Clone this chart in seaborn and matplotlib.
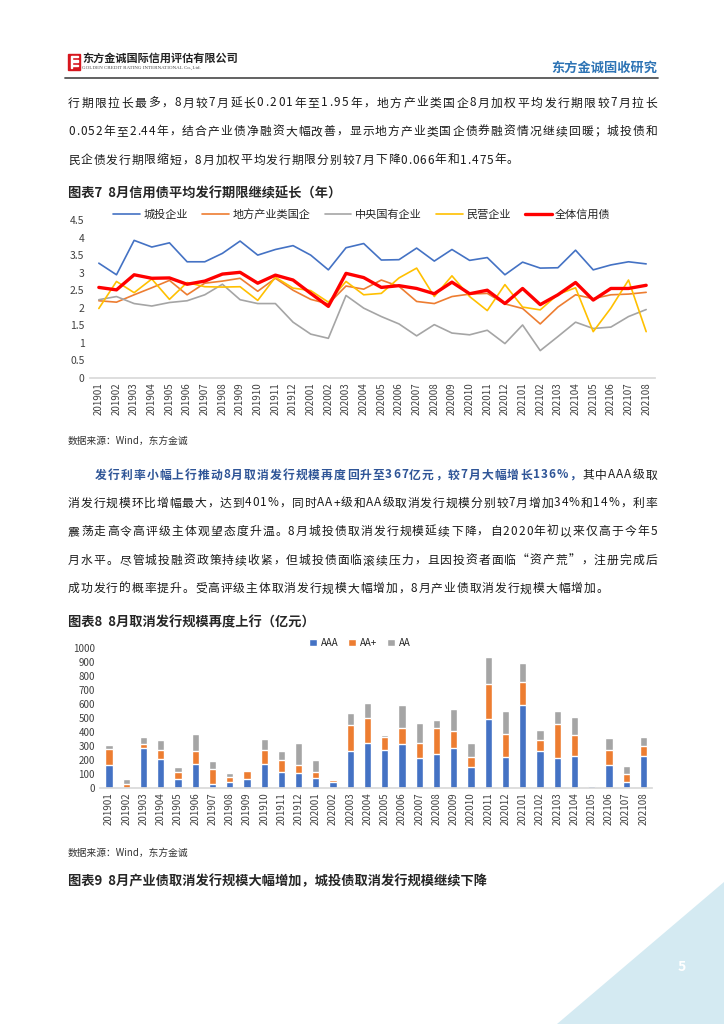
import matplotlib
matplotlib.use("Agg")
import pandas as pd
import seaborn as sns
import matplotlib.pyplot as plt
from matplotlib.patches import Polygon, Rectangle

W, H = 724, 1024

months = ['201901', '201902', '201903', '201904', '201905', '201906', '201907', '201908',
          '201909', '201910', '201911', '201912', '202001', '202002', '202003', '202004',
          '202005', '202006', '202007', '202008', '202009', '202010', '202011', '202012',
          '202101', '202102', '202103', '202104', '202105', '202106', '202107', '202108']

# chart 7: average issuance term (years)
chengtou = [3.27, 2.94, 3.92, 3.73, 3.85, 3.31, 3.31, 3.55, 3.90, 3.50, 3.66, 3.77, 3.50, 3.08, 3.71, 3.83,
            3.36, 3.37, 3.70, 3.33, 3.66, 3.35, 3.43, 2.94, 3.30, 3.13, 3.14, 3.64, 3.08, 3.22, 3.31, 3.25]
difang = [2.20, 2.16, 2.37, 2.57, 2.78, 2.37, 2.70, 2.76, 2.84, 2.47, 2.84, 2.50, 2.24, 2.11, 2.62, 2.53,
          2.79, 2.61, 2.18, 2.12, 2.32, 2.39, 2.41, 2.11, 1.98, 1.54, 2.02, 2.37, 2.26, 2.37, 2.39, 2.44]
zhongyang = [2.23, 2.32, 2.12, 2.05, 2.15, 2.20, 2.37, 2.67, 2.23, 2.12, 2.12, 1.59, 1.25, 1.13, 2.35, 1.99,
             1.75, 1.54, 1.20, 1.52, 1.28, 1.23, 1.36, 0.98, 1.51, 0.78, 1.18, 1.59, 1.41, 1.45, 1.75, 1.95]
minying = [1.98, 2.75, 2.43, 2.82, 2.24, 2.72, 2.60, 2.59, 2.60, 2.21, 2.87, 2.56, 2.49, 2.16, 2.75, 2.37,
           2.41, 2.85, 3.13, 2.32, 2.91, 2.32, 1.92, 2.66, 2.02, 1.94, 2.38, 2.57, 1.32, 1.99, 2.79, 1.32]
quanti = [2.58, 2.51, 2.94, 2.84, 2.85, 2.67, 2.76, 2.96, 3.01, 2.70, 2.93, 2.79, 2.41, 2.04, 2.98, 2.86,
          2.58, 2.63, 2.55, 2.40, 2.73, 2.40, 2.50, 2.12, 2.55, 2.09, 2.37, 2.72, 2.22, 2.55, 2.55, 2.64]
line_names = ['城投企业', '地方产业类国企', '中央国有企业', '民营企业', '全体信用债']

# chart 8: cancelled issuance by rating (100m yuan)
aaa = [162, 0, 283, 210, 67, 171, 31, 45, 67, 174, 117, 105, 69, 40, 267, 324,
       274, 317, 217, 245, 286, 152, 495, 219, 595, 264, 212, 226, 12, 167, 45, 228]
aa_plus = [114, 29, 34, 64, 47, 91, 102, 36, 52, 95, 83, 62, 48, 15, 185, 174,
           88, 112, 102, 184, 119, 67, 248, 167, 165, 81, 248, 155, 7, 107, 54, 73]
aa = [34, 35, 45, 66, 36, 121, 62, 26, 10, 81, 67, 152, 85, 12, 86, 112,
      19, 166, 145, 54, 157, 100, 193, 162, 133, 72, 88, 124, 5, 86, 56, 66]

para1 = ['行期限拉长最多，8月较7月延长0.201年至1.95年，地方产业类国企8月加权平均发行期限较7月拉长',
         '0.052年至2.44年，结合产业债净融资大幅改善，显示地方产业类国企债券融资情况继续回暖；城投债和',
         '民企债发行期限缩短，8月加权平均发行期限分别较7月下降0.066年和1.475年。']
para2_lead = '发行利率小幅上行推动8月取消发行规模再度回升至367亿元，较7月大幅增长136%，'
para2 = ['其中AAA级取',
         '消发行规模环比增幅最大，达到401%，同时AA+级和AA级取消发行规模分别较7月增加34%和14%，利率',
         '震荡走高令高评级主体观望态度升温。8月城投债取消发行规模延续下降，自2020年初以来仅高于今年5',
         '月水平。尽管城投融资政策持续收紧，但城投债面临滚续压力，且因投资者面临“资产荒”，注册完成后',
         '成功发行的概率提升。受高评级主体取消发行规模大幅增加，8月产业债取消发行规模大幅增加。']

sns.set_theme(style="white")
plt.rcParams['font.family'] = ['Noto Sans CJK SC', 'DejaVu Sans']

fig = plt.figure(figsize=(7.24, 10.24), dpi=100)
r = fig.canvas.get_renderer()


def fx(x):
    return x / W


def fy(y):
    return 1 - y / H


def put_line(y, x0, x1, segs, size=8.5):
    # place chars one by one, spread out to fill x0..x1 (justified)
    items = []
    for text, color, weight in segs:
        for ch in text:
            t = fig.text(0, 0, ch, fontsize=size, color=color, fontweight=weight, va="center", ha="left")
            items.append((t, t.get_window_extent(r).width))
    total = sum(w for _, w in items)
    gap = (x1 - x0 - total) / (len(items) - 1) if x1 else 0.95
    x = x0
    for t, w in items:
        t.set_position((fx(x), fy(y)))
        x += w + gap


# header
fig.add_artist(Rectangle((fx(68), fy(70)), 12 / W, 16 / H, color="#d7161e"))
for yy in (57, 61.5, 66):
    fig.add_artist(Rectangle((fx(72), fy(yy)), 6 / W, 1.4 / H, color="white"))
fig.add_artist(Rectangle((fx(70.5), fy(68)), 1.5 / W, 12 / H, color="white"))
fig.text(fx(82), fy(58), "东方金诚国际信用评估有限公司", fontsize=8, fontweight="bold", color="#222222", va="center")
fig.text(fx(82), fy(67.5), "GOLDEN CREDIT RATING INTERNATIONAL Co.,Ltd.", fontsize=3.6,
         family="Liberation Serif", color="#444444", va="center")
fig.text(fx(657), fy(68), "东方金诚固收研究", fontsize=9.5, fontweight="bold", color="#2e74b5", va="center", ha="right")
fig.add_artist(plt.Line2D([fx(65), fx(658)], [fy(77.5), fy(77.5)], color="#555555", lw=1.3))

# paragraph 1
for i, line in enumerate(para1):
    put_line(103 + 28.5 * i, 68, None if i == 2 else 657, [(line, "#1a1a1a", "normal")])

# chart 7
fig.text(fx(68), fy(194), "图表7  8月信用债平均发行期限继续延长（年）", fontsize=9.5, fontweight="bold", va="center")
ax1 = fig.add_axes([fx(90), fy(378), (655 - 90) / W, (378 - 220) / H])
xs = list(range(len(months)))
series = [chengtou, difang, zhongyang, minying, quanti]
colors = ['#4472c4', '#ed7d31', '#a5a5a5', '#ffc000', '#ff0000']
widths = [1.2, 1.2, 1.2, 1.2, 2.4]
for name, vals, c, lw in zip(line_names, series, colors, widths):
    sns.lineplot(x=xs, y=vals, color=c, linewidth=lw, label=name, ax=ax1)
ax1.set_xlim(-0.5, len(months) - 0.5)
ax1.set_ylim(0, 4.5)
ax1.set_yticks([0, 0.5, 1, 1.5, 2, 2.5, 3, 3.5, 4, 4.5])
ax1.set_yticklabels(['0', '0.5', '1', '1.5', '2', '2.5', '3', '3.5', '4', '4.5'])
ax1.set_xticks(xs)
ax1.set_xticklabels(months, rotation=90)
ax1.tick_params(axis="x", labelsize=7, colors="#404040", length=0, pad=3)
ax1.tick_params(axis="y", labelsize=7.5, colors="#404040", length=0, pad=4)
for s in ["top", "right", "left"]:
    ax1.spines[s].set_visible(False)
ax1.spines["bottom"].set_color("#d9d9d9")
ax1.legend_.remove()
h, l = ax1.get_legend_handles_labels()
fig.legend(h, l, loc="center", bbox_to_anchor=(fx(362), fy(214)), ncol=5, frameon=False,
           fontsize=8, handlelength=2.4, columnspacing=1.3, handletextpad=0.3)

fig.text(fx(68), fy(441), "数据来源：Wind，东方金诚", fontsize=7, color="#333333", va="center")

# paragraph 2
put_line(475, 95, 657, [(para2_lead, "#2f5597", "bold"), (para2[0], "#1a1a1a", "normal")])
for i, line in enumerate(para2[1:]):
    put_line(503 + 28.6 * i, 68, None if i == 3 else 657, [(line, "#1a1a1a", "normal")])

# chart 8
fig.text(fx(68), fy(622), "图表8  8月取消发行规模再度上行（亿元）", fontsize=9.5, fontweight="bold", va="center")
ax2 = fig.add_axes([fx(100.4), fy(788), (652 - 100.4) / W, (788 - 648) / H])
df = pd.DataFrame({"month": months, "AAA": aaa, "AA+": aa_plus, "AA": aa})
df["top2"] = df["AAA"] + df["AA+"]
df["top3"] = df["top2"] + df["AA"]
sns.barplot(data=df, x="month", y="top3", color="#a5a5a5", width=0.42, saturation=1, ax=ax2, label="AA")
sns.barplot(data=df, x="month", y="top2", color="#ed7d31", width=0.42, saturation=1, ax=ax2, label="AA+")
sns.barplot(data=df, x="month", y="AAA", color="#4472c4", width=0.42, saturation=1, ax=ax2, label="AAA")
ax2.set_xlim(-0.5, len(months) - 0.5)
ax2.set_ylim(0, 1000)
ax2.set_yticks(range(0, 1001, 100))
ax2.set_xlabel("")
ax2.set_ylabel("")
ax2.tick_params(axis="x", labelsize=7, colors="#404040", length=0, pad=3, rotation=90)
ax2.tick_params(axis="y", labelsize=7, colors="#404040", length=0, pad=4)
for s in ["top", "right", "left"]:
    ax2.spines[s].set_visible(False)
ax2.spines["bottom"].set_color("#d9d9d9")
h, l = ax2.get_legend_handles_labels()
if ax2.legend_:
    ax2.legend_.remove()
order = [l.index("AAA"), l.index("AA+"), l.index("AA")]
fig.legend([h[i] for i in order], [l[i] for i in order], loc="center", bbox_to_anchor=(fx(360), fy(643)),
           ncol=3, frameon=False, fontsize=7, handlelength=0.8, handleheight=0.8, columnspacing=1.0,
           handletextpad=0.4)

fig.text(fx(68), fy(853), "数据来源：Wind，东方金诚", fontsize=7, color="#333333", va="center")
fig.text(fx(68), fy(881), "图表9  8月产业债取消发行规模大幅增加，城投债取消发行规模继续下降", fontsize=9.5,
         fontweight="bold", va="center")

# page corner
fig.add_artist(Polygon([(fx(724), fy(882)), (fx(724), fy(1024)), (fx(557), fy(1024))], closed=True,
                       color="#d4eaf2", lw=0))
fig.text(fx(682), fy(967), "5", fontsize=10, fontweight="bold", color="white", ha="center", va="center")

fig.savefig("out.png", dpi=100)
